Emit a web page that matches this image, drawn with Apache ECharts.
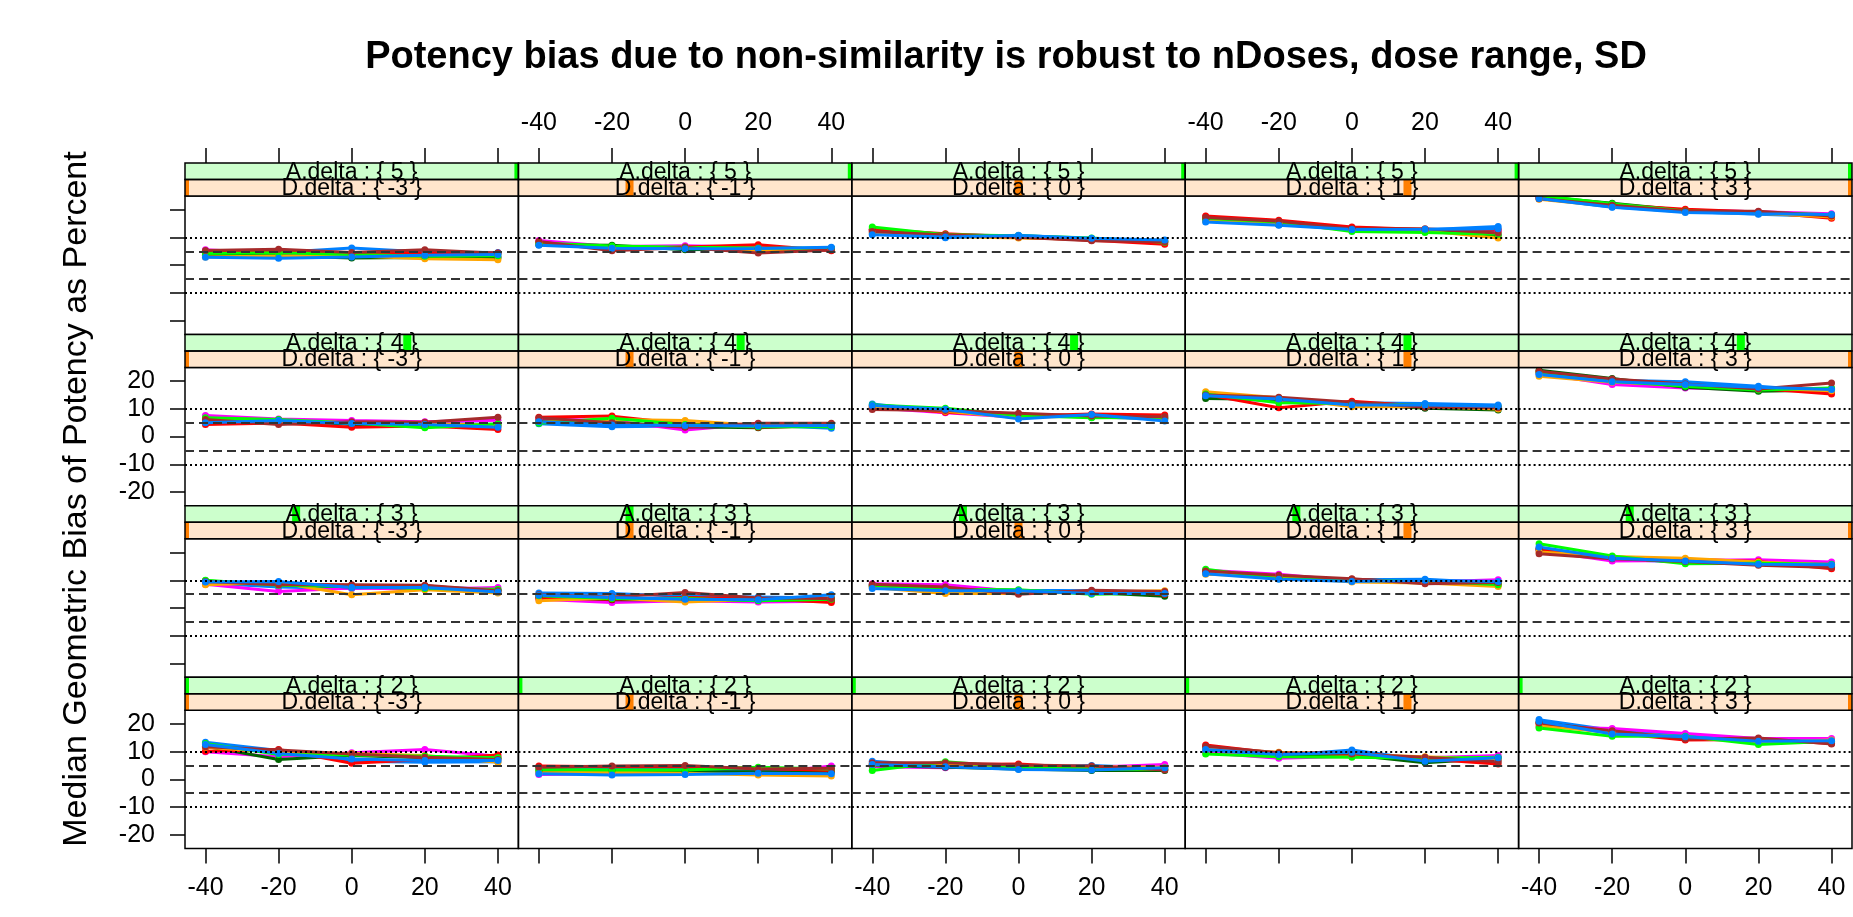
<!DOCTYPE html>
<html>
<head>
<meta charset="utf-8">
<script src="https://cdn.jsdelivr.net/npm/echarts@6/dist/echarts.min.js"></script>
<style>
html, body { margin: 0; padding: 0; background: #fff; }
#chart { width: 1853px; height: 917px; }
</style>
</head>
<body>
<div id="chart"></div>
<script>
// x positions (dose shift, percent) and panel levels
var doseShift = [-40, -20, 0, 20, 40];
var aLevels = [5, 4, 3, 2];          // rows, top to bottom
var dLevels = [-3, -1, 0, 1, 3];     // columns, left to right
var yTicks = [-20, -10, 0, 10, 20];
var refDotted = [10, -10];
var refDashed = [5, -5];
var seriesNames = ['S1', 'S2', 'S3', 'S4', 'S5', 'S6', 'S7', 'S8'];
var lineColors = ['#0080ff', '#ff00ff', '#006400', '#ff0000', '#ffa500', '#00ff00', '#a52a2a', '#0080ff'];

// one array per panel: 8 series x 5 dose shifts
var a5_dm3 = [[4.5,4.6,6.2,4.8,4.6],[5.6,4.2,3.6,3.3,3.0],[3.6,3.4,2.6,2.8,2.7],[4.8,4.9,4.2,4.5,4.4],
              [3.0,3.3,3.4,2.3,2.0],[4.2,4.5,3.9,3.2,3.4],[5.3,5.8,4.6,5.6,4.3],[2.9,2.5,3.0,3.6,3.9]];
var a5_dm1 = [[7.6,6.4,6.0,5.8,6.3],[8.9,6.8,7.0,6.5,5.7],[7.4,7.2,5.6,5.9,6.0],[8.3,5.8,6.6,7.4,5.2],
              [7.8,6.0,6.2,5.4,5.8],[8.0,6.9,6.5,6.2,6.1],[8.6,5.2,6.4,4.4,5.5],[7.2,6.1,5.9,6.0,6.5]];
var a5_d0  = [[11.4,9.9,10.8,9.5,8.8],[12.6,11.2,10.5,9.2,8.0],[12.8,10.6,10.0,9.6,8.6],[13.0,11.4,10.2,9.0,7.6],
              [11.8,10.4,9.8,9.4,8.9],[13.8,11.0,10.6,9.8,8.3],[12.2,10.9,10.1,8.8,8.5],[11.0,10.2,10.7,9.7,9.1]];
var a5_d1  = [[16.2,14.8,13.6,12.8,14.0],[17.4,15.2,13.0,12.2,12.4],[16.6,14.6,13.4,12.6,10.6],[17.8,16.2,13.8,12.9,12.8],
              [16.0,15.0,12.6,12.4,9.8],[17.0,15.6,12.2,11.8,11.2],[17.2,15.9,13.2,13.2,11.6],[15.6,14.4,12.9,13.0,13.2]];
var a5_d3  = [[24.2,21.0,19.4,18.4,17.6],[24.6,21.4,19.9,19.3,18.6],[24.8,22.4,19.8,18.9,18.0],[24.4,21.8,20.2,19.2,17.0],
              [23.8,21.2,19.2,18.8,17.4],[25.2,22.2,19.6,19.0,18.2],[24.0,21.7,19.5,19.5,17.8],[24.1,20.9,19.0,18.6,18.3]];

var a4_dm3 = [[5.2,5.4,4.6,4.8,4.4],[7.6,6.4,5.8,5.4,5.9],[6.4,6.0,4.4,3.6,3.8],[4.4,4.9,3.4,3.8,2.6],
              [5.8,5.6,5.0,4.6,4.2],[6.8,6.2,4.9,3.2,4.6],[6.2,4.4,5.4,5.2,7.0],[5.0,5.8,4.7,4.4,3.4]];
var a4_dm1 = [[4.6,3.6,3.8,4.2,3.0],[6.4,5.8,2.4,4.6,4.4],[5.6,5.2,3.6,3.2,4.2],[7.0,7.4,4.6,3.4,3.8],
              [5.2,6.2,5.8,4.0,4.6],[4.8,6.6,4.4,3.6,3.6],[6.8,5.0,3.4,4.8,4.8],[5.4,4.2,4.0,3.8,4.0]];
var a4_d0  = [[11.8,9.0,7.8,7.2,6.4],[10.4,8.6,7.0,7.8,7.4],[10.2,9.6,8.0,7.0,6.6],[11.0,8.8,7.4,8.2,7.8],
              [10.6,9.2,6.8,7.6,6.2],[11.4,10.2,7.6,6.8,7.0],[9.8,9.4,8.4,7.4,7.2],[11.2,9.9,6.4,8.0,5.6]];
var a4_d1  = [[14.6,13.0,12.2,12.0,11.4],[14.2,12.8,11.6,10.4,10.2],[13.8,13.4,11.8,10.2,9.6],[15.2,10.4,12.8,11.0,10.6],
              [16.2,14.0,10.8,10.8,10.0],[15.4,12.2,12.0,11.2,10.8],[15.0,14.2,12.4,10.6,10.4],[14.8,13.6,11.4,11.4,11.0]];
var a4_d3  = [[22.6,20.4,19.8,18.2,16.2],[22.8,18.8,17.6,17.0,17.4],[24.0,21.0,17.8,16.4,16.8],[23.4,20.2,18.4,17.4,15.4],
              [21.8,19.6,18.6,17.6,16.6],[23.2,20.0,18.2,16.8,17.6],[23.6,20.8,19.0,17.2,19.4],[22.4,19.8,18.8,17.8,17.0]];

var a3_dm3 = [[9.0,7.6,7.0,7.8,6.6],[8.6,6.0,7.2,6.8,7.4],[9.8,8.6,7.6,7.2,6.4],[9.2,8.8,8.2,8.0,6.0],
              [8.4,9.2,4.8,6.6,5.4],[10.0,8.2,7.8,7.0,6.8],[9.6,8.4,8.4,8.2,6.2],[9.4,9.6,7.4,7.4,5.8]];
var a3_dm1 = [[5.4,5.2,4.2,4.0,3.6],[3.2,2.0,2.6,2.2,2.4],[4.0,3.0,3.0,2.8,2.8],[3.6,3.2,3.8,3.4,2.0],
              [2.6,3.6,2.2,3.2,3.6],[4.4,3.4,3.4,2.6,3.2],[4.8,4.0,5.6,3.6,3.4],[4.6,3.8,3.2,3.0,4.8]];
var a3_d0  = [[8.4,7.2,6.4,6.2,5.8],[8.8,8.4,6.0,5.4,5.6],[7.8,6.6,5.8,5.6,4.2],[8.0,7.0,5.4,6.0,5.0],
              [7.4,5.2,5.2,5.8,6.2],[8.2,6.8,6.6,5.0,5.4],[8.6,7.6,5.0,6.4,6.0],[7.0,6.2,6.2,5.2,5.2]];
var a3_d1  = [[12.6,11.6,10.2,10.4,9.0],[13.6,12.2,9.8,9.4,10.2],[12.8,11.0,10.2,9.6,8.6],[13.2,10.8,10.4,9.2,8.2],
              [12.2,11.4,9.4,9.0,7.8],[14.0,10.6,10.0,9.8,8.4],[13.4,11.8,10.6,8.8,9.2],[12.4,10.4,9.6,10.0,9.6]];
var a3_d3  = [[21.6,17.6,16.6,16.2,15.0],[20.8,17.0,17.2,17.4,16.6],[21.0,18.4,16.4,16.0,15.2],[21.4,18.2,17.6,16.8,14.2],
              [20.2,18.6,18.0,16.6,15.4],[23.2,18.8,16.0,16.2,15.8],[19.6,17.8,16.8,15.4,14.6],[22.0,18.0,17.0,15.8,15.6]];

var a2_dm3 = [[13.4,10.4,6.6,6.2,6.4],[10.0,8.2,9.6,10.8,8.4],[12.0,7.2,8.6,7.8,7.6],[10.2,10.8,5.8,7.2,8.8],
              [11.6,9.8,9.4,8.6,6.2],[13.0,9.0,8.8,8.4,7.8],[11.8,10.6,9.2,8.0,7.2],[12.6,9.4,7.4,6.8,6.8]];
var a2_dm1 = [[4.2,4.0,3.8,3.6,3.4],[1.8,2.0,2.2,2.0,4.8],[3.0,3.0,2.8,2.8,2.6],[4.8,4.6,4.6,4.0,3.2],
              [2.4,2.6,2.2,1.6,1.2],[3.6,3.4,3.4,4.4,3.8],[4.4,4.8,5.0,3.8,4.0],[2.0,1.6,1.8,2.2,2.0]];
var a2_d0  = [[6.6,4.8,4.2,5.0,4.0],[4.6,4.2,4.8,4.4,5.4],[5.0,4.4,3.8,3.2,3.2],[5.6,5.4,5.6,4.0,3.6],
              [5.2,5.8,4.6,4.6,4.4],[3.2,6.4,4.4,3.8,3.6],[6.0,6.0,5.2,4.8,3.4],[5.4,4.6,3.6,3.4,4.2]];
var a2_d1  = [[10.4,8.6,10.6,7.0,6.8],[9.6,7.6,8.4,7.8,8.6],[11.6,8.8,8.8,6.0,7.6],[12.4,9.4,9.6,7.4,5.6],
              [11.2,9.8,9.0,8.2,7.2],[9.2,8.2,8.0,7.6,8.0],[12.0,9.6,9.2,8.0,6.4],[10.8,9.0,9.8,6.6,7.8]];
var a2_d3  = [[21.6,17.8,15.8,14.2,13.2],[19.0,18.4,16.6,14.8,14.8],[20.6,17.2,15.0,14.0,13.6],[20.2,16.8,14.2,14.4,13.0],
              [19.4,17.0,15.2,13.4,14.2],[18.6,15.6,15.6,12.6,13.8],[20.4,17.6,14.6,15.0,12.8],[21.0,16.4,15.4,13.8,14.0]];

var panelData = [
    [a5_dm3, a5_dm1, a5_d0, a5_d1, a5_d3],
    [a4_dm3, a4_dm1, a4_d0, a4_d1, a4_d3],
    [a3_dm3, a3_dm1, a3_d0, a3_d1, a3_d3],
    [a2_dm3, a2_dm1, a2_d0, a2_d1, a2_d3]
];

// layout (px)
var LEFT = 185, PW = 333.4, TOP = 163, RH = 171.4, SH = 16.5;
var FONT = 'Liberation Sans, Arial, sans-serif';

var chart = echarts.init(document.getElementById('chart'));

var grids = [], xAxes = [], yAxes = [], series = [], graphics = [];

function stripGraphics(x, y, bg, barColor, frac, label) {
    var cx = x + frac * PW;
    var x0 = Math.max(x, cx - 4), x1 = Math.min(x + PW, cx + 4);
    graphics.push({ type: 'rect', shape: { x: x, y: y, width: PW, height: SH }, style: { fill: bg }, z: 10 });
    graphics.push({ type: 'rect', shape: { x: x0, y: y, width: x1 - x0, height: SH }, style: { fill: barColor }, z: 11 });
    graphics.push({ type: 'text', x: x + PW / 2, y: y + SH / 2 + 1, z: 12,
        style: { text: label, fill: '#000', font: '23px ' + FONT, textAlign: 'center', textVerticalAlign: 'middle' } });
    graphics.push({ type: 'rect', shape: { x: x, y: y, width: PW, height: SH },
        style: { fill: null, stroke: '#000', lineWidth: 1.5 }, z: 13 });
}

for (var r = 0; r < aLevels.length; r++) {
    for (var c = 0; c < dLevels.length; c++) {
        var g = grids.length;
        var left = LEFT + c * PW;
        var stripTop = TOP + r * RH;
        grids.push({ left: left, top: stripTop + 2 * SH, width: PW, height: RH - 2 * SH,
            show: true, borderColor: '#000', borderWidth: 1.5, backgroundColor: 'rgba(0,0,0,0)' });

        var xShow = (r === 0 || r === aLevels.length - 1);
        var xLab = (r === 0 && c % 2 === 1) || (r === aLevels.length - 1 && c % 2 === 0);
        xAxes.push({
            gridIndex: g, type: 'value', min: -45.6, max: 45.6, show: xShow,
            position: r === 0 ? 'top' : 'bottom', offset: r === 0 ? 2 * SH : 0,
            axisLine: { show: false, onZero: false },
            axisTick: { show: true, length: 15, customValues: doseShift, lineStyle: { color: '#000', width: 1.5 } },
            axisLabel: { show: xLab, customValues: doseShift, fontSize: 25, color: '#000', fontFamily: FONT, margin: 27 },
            splitLine: { show: false }
        });
        yAxes.push({
            gridIndex: g, type: 'value', min: -25, max: 25, show: c === 0, position: 'left',
            axisLine: { show: false, onZero: false },
            axisTick: { show: true, length: 15, customValues: yTicks, lineStyle: { color: '#000', width: 1.5 } },
            axisLabel: { show: r % 2 === 1, customValues: yTicks, fontSize: 25, color: '#000', fontFamily: FONT, margin: 30 },
            splitLine: { show: false }
        });

        var sets = panelData[r][c];
        for (var s = 0; s < sets.length; s++) {
            var vals = sets[s];
            series.push({
                name: seriesNames[s], type: 'line', xAxisIndex: g, yAxisIndex: g,
                data: doseShift.map(function (x, k) { return [x, vals[k]]; }),
                symbol: 'circle', symbolSize: 7, showSymbol: true,
                lineStyle: { width: 3, color: lineColors[s] }, itemStyle: { color: lineColors[s] },
                silent: true, z: 2
            });
        }
        var refs = [];
        refDotted.forEach(function (v) { refs.push({ yAxis: v, lineStyle: { type: [2, 3], color: '#000', width: 2 } }); });
        refDashed.forEach(function (v) { refs.push({ yAxis: v, lineStyle: { type: [9, 5], color: '#333', width: 2 } }); });
        series.push({
            type: 'line', xAxisIndex: g, yAxisIndex: g, data: [], z: 4, silent: true,
            markLine: { symbol: ['none', 'none'], silent: true, label: { show: false }, animation: false, data: refs }
        });

        stripGraphics(left, stripTop, '#ccffcc', '#00ff00', (aLevels[r] - 2) / 3, 'A.delta : { ' + aLevels[r] + ' }');
        stripGraphics(left, stripTop + SH, '#ffe5cc', '#ff7f00', (dLevels[c] + 3) / 6, 'D.delta : { ' + dLevels[c] + ' }');
    }
}

graphics.push({ type: 'text', x: 1006, y: 58, z: 20,
    style: { text: 'Potency bias due to non-similarity is robust to nDoses, dose range, SD', fill: '#000',
        font: 'bold 38px ' + FONT, textAlign: 'center', textVerticalAlign: 'middle' } });
graphics.push({ type: 'text', x: 77, y: 499, rotation: Math.PI / 2, z: 20,
    style: { text: 'Median Geometric Bias of Potency as Percent', fill: '#000',
        font: '34px ' + FONT, textAlign: 'center', textVerticalAlign: 'middle' } });

var option = {
    animation: false,
    backgroundColor: '#fff',
    grid: grids,
    xAxis: xAxes,
    yAxis: yAxes,
    series: series,
    graphic: graphics
};

chart.setOption(option);
</script>
</body>
</html>
